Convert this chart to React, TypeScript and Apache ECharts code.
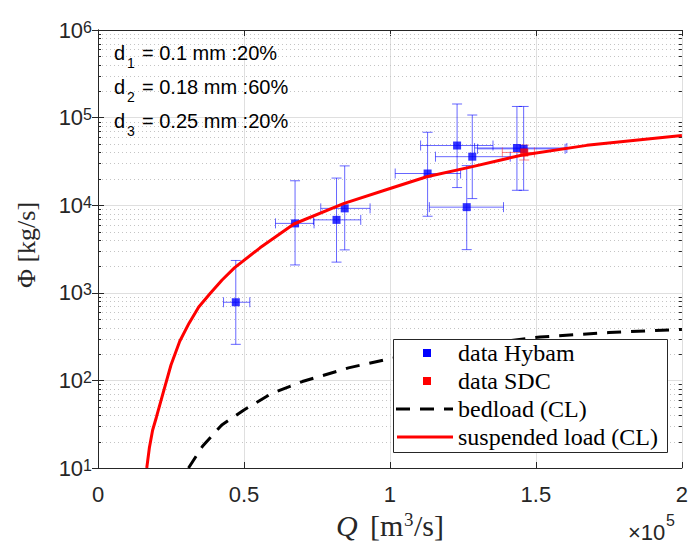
import React, { useEffect, useRef } from 'react';
import * as echarts from 'echarts';

// ---- data (Q in units of 1e5 m^3/s, Phi in kg/s) ----
const hybamQ = [0.472, 0.675, 0.817, 0.845, 1.129, 1.230, 1.282, 1.263, 1.435, 1.458];
const hybamPhi = [780, 6200, 6800, 9200, 23000, 48000, 35800, 9500, 45000, 44000];
const hybamQLow = [0.43, 0.608, 0.738, 0.763, 1.018, 1.105, 1.156, 1.135, 1.29, 1.30];
const hybamQHigh = [0.52, 0.74, 0.90, 0.932, 1.242, 1.353, 1.412, 1.389, 1.606, 1.60];
const hybamPhiLow = [258, 2080, 2240, 3090, 7480, 15900, 11900, 3110, 14800, 14800];
const hybamPhiHigh = [2340, 19000, 20400, 28100, 68000, 143000, 107000, 28300, 134000, 134000];

const sdcQ = [1.46];
const sdcPhi = [40000];
const sdcQLow = [1.385];
const sdcQHigh = [1.495];
const sdcPhiLow = [32800];
const sdcPhiHigh = [48600];

const suspQ = [0.167, 0.176, 0.187, 0.2, 0.22, 0.25, 0.28, 0.312, 0.345, 0.384, 0.425, 0.468, 0.555, 0.671, 0.843, 1.003, 1.126, 1.279, 1.45, 1.674, 2.0];
const suspPhi = [10, 17, 27, 38, 66, 150, 280, 450, 690, 980, 1400, 1940, 3260, 6100, 10500, 15600, 21100, 27400, 37200, 48200, 62500];

const bedQ = [0.31, 0.358, 0.424, 0.5, 0.595, 0.7, 0.858, 1.003, 1.25, 1.514, 1.75, 2.0];
const bedPhi = [10, 17.7, 31, 46, 71, 97, 139, 178, 245, 313, 352, 382];

const minorSteps = [2, 3, 4, 5, 6, 7, 8, 9];
const decades = [10, 100, 1000, 10000, 100000];

const legendLabels = ['data Hybam', 'data SDC', 'bedload (CL)', 'suspended load (CL)'];
const annotationSubs = ['1', '2', '3'];
const annotationTexts = ['= 0.1 mm :20%', '= 0.18 mm :60%', '= 0.25 mm :20%'];

const AX = '#262626';
const SANS = '"Liberation Sans", Arial, sans-serif';
const SERIF = '"Liberation Serif", "Times New Roman", serif';

function errRender(color: string) {
  return (params: any, api: any) => {
    const x = api.value(0);
    const y = api.value(1);
    const c = api.coord([x, y]);
    const xl = api.coord([api.value(2), y])[0];
    const xh = api.coord([api.value(3), y])[0];
    const yl = api.coord([x, api.value(4)])[1];
    const yh = api.coord([x, api.value(5)])[1];
    const cap = 5;
    const style = { stroke: color, lineWidth: 1, fill: null };
    const ln = (x1: number, y1: number, x2: number, y2: number) => ({
      type: 'line',
      shape: { x1, y1, x2, y2 },
      style,
    });
    return {
      type: 'group',
      children: [
        ln(c[0], yl, c[0], yh),
        ln(c[0] - cap, yl, c[0] + cap, yl),
        ln(c[0] - cap, yh, c[0] + cap, yh),
        ln(xl, c[1], xh, c[1]),
        ln(xl, c[1] - cap, xl, c[1] + cap),
        ln(xh, c[1] - cap, xh, c[1] + cap),
      ],
    };
  };
}

export default function App() {
  const ref = useRef<HTMLDivElement>(null);
  useEffect(() => {
    const chart = echarts.init(ref.current!, null, { renderer: 'svg' });

    const minorVals: number[] = [];
    decades.forEach((d) => minorSteps.forEach((m) => minorVals.push(m * d)));

    const hybamErr = hybamQ.map((q, i) => [q, hybamPhi[i], hybamQLow[i], hybamQHigh[i], hybamPhiLow[i], hybamPhiHigh[i]]);
    const sdcErr = sdcQ.map((q, i) => [q, sdcPhi[i], sdcQLow[i], sdcQHigh[i], sdcPhiLow[i], sdcPhiHigh[i]]);

    const yAxisBase = {
      type: 'log',
      logBase: 10,
      min: 10,
      max: 1000000,
      axisLine: { show: true, lineStyle: { color: AX, width: 1 } },
      axisTick: { show: true, inside: true, length: 6, lineStyle: { color: AX } },
    };
    const xAxisBase = {
      type: 'value',
      min: 0,
      max: 2,
      interval: 0.5,
      axisLine: { show: true, onZero: false, lineStyle: { color: AX, width: 1 } },
      axisTick: { show: true, inside: true, length: 6, lineStyle: { color: AX } },
    };

    const legendTop = 339;
    const rowY = [353, 381, 409, 437];

    const graphics: any[] = [];
    // annotation
    annotationTexts.forEach((t, i) => {
      const y = 52.5 + i * 34.3;
      graphics.push({ type: 'text', x: 114, y, style: { text: 'd', font: `20px ${SANS}`, fill: '#000', verticalAlign: 'middle' }, z: 50 });
      graphics.push({ type: 'text', x: 127, y: y + 10, style: { text: annotationSubs[i], font: `14px ${SANS}`, fill: '#000', verticalAlign: 'middle' }, z: 50 });
      graphics.push({ type: 'text', x: 142, y, style: { text: t, font: `20px ${SANS}`, fill: '#000', verticalAlign: 'middle' }, z: 50 });
    });
    // legend
    graphics.push({ type: 'rect', shape: { x: 393.5, y: legendTop + 0.5, width: 274, height: 113 }, style: { fill: '#fff', stroke: AX, lineWidth: 1 }, z: 60 });
    graphics.push({ type: 'rect', shape: { x: 423, y: rowY[0] - 4, width: 8, height: 8 }, style: { fill: '#0000ff' }, z: 61 });
    graphics.push({ type: 'rect', shape: { x: 423, y: rowY[1] - 4, width: 8, height: 8 }, style: { fill: '#ff0000' }, z: 61 });
    graphics.push({ type: 'line', shape: { x1: 396, y1: rowY[2], x2: 453, y2: rowY[2] }, style: { stroke: '#000', lineWidth: 3, lineDash: [14, 10] }, z: 61 });
    graphics.push({ type: 'line', shape: { x1: 397, y1: rowY[3], x2: 453, y2: rowY[3] }, style: { stroke: '#ff0000', lineWidth: 3 }, z: 61 });
    legendLabels.forEach((t, i) => {
      graphics.push({ type: 'text', x: 458, y: rowY[i], style: { text: t, font: `24px ${SERIF}`, fill: '#000', verticalAlign: 'middle' }, z: 61 });
    });
    // x axis name: Q [m^3/s]
    graphics.push({ type: 'text', x: 336, y: 525, z: 50, style: { text: 'Q', font: `italic 30px ${SERIF}`, fill: AX, verticalAlign: 'middle' } });
    graphics.push({ type: 'text', x: 370, y: 525, z: 50, style: { text: '[m', font: `30px ${SERIF}`, fill: AX, verticalAlign: 'middle' } });
    graphics.push({ type: 'text', x: 404, y: 519, z: 50, style: { text: '3', font: `19px ${SERIF}`, fill: AX, verticalAlign: 'middle' } });
    graphics.push({ type: 'text', x: 414, y: 525, z: 50, style: { text: '/s]', font: `30px ${SERIF}`, fill: AX, verticalAlign: 'middle' } });
    // y axis name
    graphics.push({
      type: 'text', x: 26, y: 245, rotation: Math.PI / 2, z: 50,
      style: { text: 'Φ [kg/s]', font: `26px ${SERIF}`, fill: AX, align: 'center', verticalAlign: 'middle' },
    });
    // x10^5
    graphics.push({ type: 'text', x: 628, y: 532, z: 50, style: { text: '×10', font: `22px ${SANS}`, fill: AX, verticalAlign: 'middle' } });
    graphics.push({ type: 'text', x: 666, y: 520, z: 50, style: { text: '5', font: `16px ${SANS}`, fill: AX, verticalAlign: 'middle' } });

    const option: any = {
      animation: false,
      backgroundColor: '#fff',
      grid: { left: 98, top: 30, width: 584, height: 438, containLabel: false },
      xAxis: [
        {
          ...xAxisBase,
          position: 'bottom',
          splitLine: { show: true, lineStyle: { color: '#dfdfdf', width: 1 } },
          axisLabel: {
            show: true, margin: 15, fontSize: 22, color: AX, fontFamily: SANS,
            formatter: (v: number) => String(v),
          },
        },
        { ...xAxisBase, position: 'top', splitLine: { show: false }, axisLabel: { show: false } },
      ],
      yAxis: [
        {
          ...yAxisBase,
          position: 'left',
          splitLine: { show: true, lineStyle: { color: '#dfdfdf', width: 1 } },
          axisLabel: {
            show: true, margin: 6, align: 'right',
            formatter: (v: number) => `{b|10}{e|${Math.round(Math.log10(v))}}`,
            rich: {
              b: { fontSize: 22, fontFamily: SANS, color: AX, verticalAlign: 'bottom', padding: [9, 0, 0, 0], lineHeight: 22 },
              e: { fontSize: 16, fontFamily: SANS, color: AX, verticalAlign: 'top', lineHeight: 16 },
            },
          },
        },
        { ...yAxisBase, position: 'right', splitLine: { show: false }, axisLabel: { show: false } },
      ],
      series: [
        {
          type: 'custom',
          silent: true,
          z: 1,
          xAxisIndex: 0,
          yAxisIndex: 0,
          data: minorVals.map((v) => [0, v]),
          encode: { x: 0, y: 1 },
          renderItem: (params: any, api: any) => {
            const cs = params.coordSys;
            const y = Math.round(api.coord([0, api.value(1)])[1]) + 0.5;
            return {
              type: 'group',
              children: [
                { type: 'line', shape: { x1: cs.x, y1: y, x2: cs.x + cs.width, y2: y }, style: { stroke: '#c4c4c4', lineWidth: 1, lineDash: [1, 3] } },
                { type: 'line', shape: { x1: cs.x, y1: y, x2: cs.x + 3, y2: y }, style: { stroke: AX, lineWidth: 1 } },
                { type: 'line', shape: { x1: cs.x + cs.width - 3, y1: y, x2: cs.x + cs.width, y2: y }, style: { stroke: AX, lineWidth: 1 } },
              ],
            };
          },
        },
        {
          type: 'custom',
          name: 'errHybam',
          silent: true,
          z: 3,
          data: hybamErr,
          encode: { x: [0, 2, 3], y: [1, 4, 5] },
          renderItem: errRender('rgba(0,0,255,0.6)'),
        },
        {
          type: 'custom',
          name: 'errSDC',
          silent: true,
          z: 3,
          data: sdcErr,
          encode: { x: [0, 2, 3], y: [1, 4, 5] },
          renderItem: errRender('rgba(255,40,40,0.55)'),
        },
        {
          type: 'scatter',
          name: 'data Hybam',
          z: 4,
          symbol: 'rect',
          symbolSize: 8,
          itemStyle: { color: '#0000ff' },
          data: hybamQ.map((q, i) => [q, hybamPhi[i]]),
        },
        {
          type: 'scatter',
          name: 'data SDC',
          z: 4,
          symbol: 'rect',
          symbolSize: 8,
          itemStyle: { color: '#ff0000' },
          data: sdcQ.map((q, i) => [q, sdcPhi[i]]),
        },
        {
          type: 'line',
          name: 'bedload (CL)',
          z: 5,
          showSymbol: false,
          symbol: 'none',
          lineStyle: { color: '#000', width: 3, type: [14, 10] },
          data: bedQ.map((q, i) => [q, bedPhi[i]]),
        },
        {
          type: 'line',
          name: 'suspended load (CL)',
          z: 5,
          showSymbol: false,
          symbol: 'none',
          lineStyle: { color: '#ff0000', width: 3 },
          data: suspQ.map((q, i) => [q, suspPhi[i]]),
        },
      ],
      graphic: graphics,
    };
    chart.setOption(option);
    return () => chart.dispose();
  }, []);
  return <div ref={ref} style={{ position: 'absolute', left: 0, top: 0, width: 691, height: 543 }} />;
}
